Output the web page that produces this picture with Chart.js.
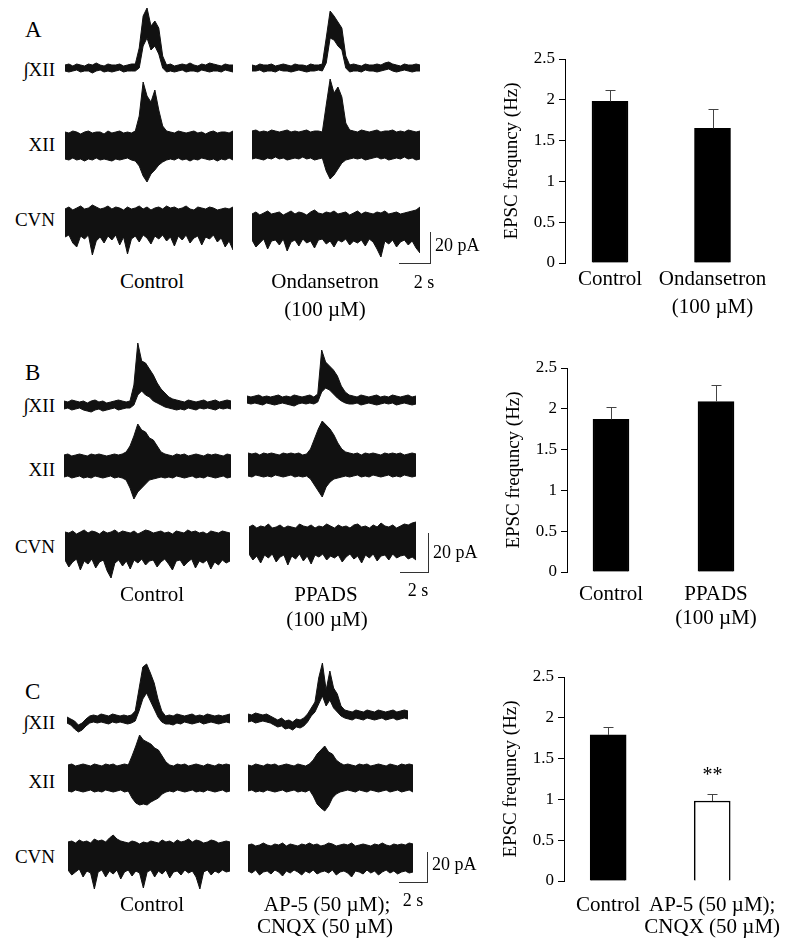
<!DOCTYPE html>
<html>
<head>
<meta charset="utf-8">
<script src="https://cdn.jsdelivr.net/npm/chart.js@4.4.1/dist/chart.umd.min.js"></script>
<style>
  body { margin: 0; background: #fff; width: 800px; height: 945px; position: relative; overflow: hidden;
         font-family: "Liberation Serif", "Times New Roman", serif; color: #000; }
  canvas { position: absolute; }
  .t { position: absolute; white-space: nowrap; line-height: 1; }
  .bar { position: absolute; background: #333; }
</style>
</head>
<body>
<script>
// ---- trace envelopes (px above / below the trace midline), 44 samples each ----
// panel A
const aCtlIntUp = [3,4,2,4,3,2,4,3,5,3,2,4,3,3,4,2,3,4, 4,20,52,60,42,47,40,12,3, 4,2,3,4,3,5,3,2,4,3,5,4,3,2,4,3,3];
const aCtlIntLo = [-3,-4,-3,-2,-4,-3,-3,-5,-3,-2,-4,-3,-4,-3,-2,-4,-3,-3, -3,0,22,30,18,22,14,0,-4, -3,-4,-3,-2,-4,-3,-3,-4,-2,-3,-4,-3,-3,-4,-2,-3,-4];
const aDrgIntUp = [3,2,4,3,3,4,2,3,4,3,2,4,3,3,2,4,3,3, 4,30,57,52,46,40,12,3,4, 3,2,4,3,3,4,3,5,6,4,3,2,4,3,3,4,3];
const aDrgIntLo = [-3,-3,-2,-4,-3,-3,-4,-2,-3,-3,-4,-3,-2,-3,-4,-3,-3,-2, -3,5,30,28,22,18,0,-4,-3, -3,-4,-2,-3,-3,-4,-3,-2,-1,-3,-4,-3,-2,-3,-4,-3,-3];
const aCtlXiiUp = [14,13,15,14,12,14,15,13,14,14,12,15,13,14,15,13,14,13,15, 30,64,50,44,56,36,20,15, 14,13,15,14,13,14,15,13,14,12,14,15,13,14,14,13,15];
const aCtlXiiLo = [-13,-14,-12,-14,-13,-15,-13,-14,-12,-14,-13,-14,-15,-13,-14,-13,-12,-14,-15, -20,-30,-36,-28,-24,-19,-16,-14, -13,-14,-12,-14,-13,-15,-13,-14,-12,-13,-14,-13,-15,-13,-14,-12,-14];
const aDrgXiiUp = [14,15,13,14,13,15,14,13,14,15,13,14,13,14,15,13,14,14,13, 40,66,52,58,48,22,15,14, 13,15,14,13,14,15,13,14,14,15,13,14,13,15,14,13,14];
const aDrgXiiLo = [-14,-13,-14,-15,-13,-14,-12,-14,-13,-15,-14,-13,-14,-12,-14,-13,-15,-14,-13, -26,-34,-30,-24,-18,-15,-14,-13, -14,-13,-15,-14,-13,-12,-14,-13,-15,-14,-13,-14,-12,-14,-13,-15,-14];
const aCtlCvnUp = [12,14,11,13,15,12,13,16,14,12, 13,15,12,14,13,11,14,12,13,15, 12,14,11,13,14,12,15,13,14,12, 13,15,12,11,14,13,12,14,13,11, 12,13,12,14];
const aCtlCvnLo = [-16,-14,-22,-26,-15,-18,-14,-34,-20,-16, -22,-15,-19,-14,-24,-16,-33,-18,-15,-21, -14,-17,-23,-15,-18,-14,-20,-16,-25,-15, -19,-14,-22,-17,-15,-24,-16,-18,-14,-21, -17,-26,-20,-29];
const aDrgCvnUp = [11,13,10,12,14,11,12,13,10,12, 14,11,13,12,10,13,15,12,11,13, 12,14,11,12,13,10,12,14,11,13, 12,11,13,12,14,11,12,13,11,12, 13,14,15,18];
const aDrgCvnLo = [-15,-22,-18,-14,-24,-16,-15,-20,-14,-26, -17,-15,-21,-14,-18,-16,-23,-15,-14,-19, -16,-22,-15,-17,-14,-20,-16,-18,-15,-21, -14,-17,-24,-32,-16,-19,-15,-22,-17,-15, -20,-16,-23,-28];
// panel B
const bCtlIntUp = [4,3,5,4,3,4,2,4,5,3,4,2,3,4,5,4,3, 4,20,62,44,42,36,30,22,16,12,8,6,5, 4,3,5,4,3,4,5,3,4,5,3,4,5,4];
const bCtlIntLo = [-4,-3,-5,-4,-3,-5,-6,-7,-5,-4,-6,-5,-4,-3,-5,-4,-3, -3,0,10,14,10,8,4,2,0,-2,-3,-4,-5, -4,-5,-3,-4,-5,-3,-4,-3,-4,-5,-3,-4,-3,-4];
const bDrgIntUp = [4,3,4,5,3,4,3,4,5,3,4,3,5,4,3,4,5,3, 6,50,38,34,30,24,14,8,5, 4,3,5,4,3,4,5,3,4,3,5,4,3,4,5,3,4];
const bDrgIntLo = [-3,-4,-3,-4,-5,-3,-4,-5,-4,-3,-4,-5,-6,-4,-3,-4,-3,-4, -2,8,12,10,6,2,-1,-3,-4, -4,-3,-5,-4,-3,-4,-5,-4,-3,-4,-3,-5,-4,-3,-4,-5,-4];
const bCtlXiiUp = [11,12,10,11,12,11,10,12,11,12,11,10,11,12,11,12, 14,20,30,42,36,34,28,26,20,14,12, 11,10,12,11,12,10,11,12,11,10,12,11,12,11,10,12,11];
const bCtlXiiLo = [-11,-10,-12,-11,-10,-12,-11,-12,-10,-11,-12,-11,-10,-12,-11,-12, -14,-22,-33,-26,-22,-18,-14,-13,-12,-11,-12, -11,-12,-10,-11,-12,-11,-10,-12,-11,-12,-10,-11,-12,-11,-10,-12,-11];
const bDrgXiiUp = [12,11,12,10,12,11,12,11,10,12,11,12,11,12,10,11, 16,26,36,44,40,36,30,22,16,13,12, 11,12,10,12,11,12,11,10,12,11,12,11,12,10,11,12,11];
const bDrgXiiLo = [-11,-12,-10,-11,-12,-11,-12,-10,-11,-12,-11,-10,-12,-11,-12,-11, -14,-20,-26,-32,-22,-17,-14,-13,-12,-11,-12, -11,-10,-12,-11,-12,-10,-11,-12,-11,-10,-12,-11,-12,-10,-11,-12,-11];
const bCtlCvnUp = [13,12,14,11,13,15,12,14,13,11, 14,12,13,15,12,14,13,12,14,11, 13,15,14,12,13,14,12,13,11,14, 13,12,15,13,14,12,13,11,14,13, 12,14,13,12];
const bCtlCvnLo = [-15,-22,-17,-14,-25,-16,-19,-14,-23,-17, -15,-26,-33,-18,-15,-21,-16,-24,-15,-18, -14,-20,-16,-15,-22,-17,-14,-19,-25,-16, -15,-21,-17,-14,-23,-16,-18,-15,-24,-17, -20,-15,-18,-16];
const bDrgCvnUp = [13,15,12,14,13,16,12,13,15,12, 14,13,12,16,14,13,15,12,14,13, 16,14,12,15,13,14,12,15,16,13, 14,12,15,13,17,14,13,15,12,14, 16,15,17,18];
const bDrgCvnLo = [-14,-20,-16,-23,-15,-18,-14,-22,-17,-15, -25,-16,-19,-14,-21,-16,-24,-15,-17,-14, -20,-16,-18,-15,-22,-17,-14,-19,-16,-23, -15,-18,-14,-21,-16,-15,-20,-14,-18,-16, -15,-19,-17,-20];
// panel C
const cCtlIntUp = [2,0,-2,-6,-4,0,3,4,3,5,4,3,5,4,3,4,3,4, 8,30,52,55,46,36,20,8,3, 4,3,5,4,3,4,5,3,4,3,5,4,3,4,3,4,5];
const cCtlIntLo = [-4,-6,-10,-13,-11,-7,-4,-3,-4,-3,-4,-5,-3,-4,-3,-4,-5,-4, -2,8,20,26,18,10,2,-3,-5, -5,-6,-4,-5,-3,-4,-5,-4,-3,-5,-4,-3,-4,-5,-4,-3,-4];
const cDrgIntUp = [4,3,5,4,3,4,2, 0,-2,0,-3,-2,-4,-1,-2,0,4,10,16,40,55,28,47,30,24,12,8, 7,6,8,7,6,8,7,6,8,7,6,7,8,6,7,8,7];
const cDrgIntLo = [-4,-3,-5,-4,-3,-4,-5, -7,-9,-8,-11,-10,-12,-9,-10,-8,-4,2,6,14,22,12,18,10,6,2,0, -1,-2,0,-1,-2,0,-1,-2,-1,0,-2,-1,0,-2,-1,0,-1];
const cCtlXiiUp = [13,14,12,13,14,13,12,14,13,12,14,13,14,12,13,14,13, 22,32,43,38,36,34,30,28,22,16, 13,12,14,13,14,12,13,14,13,12,14,13,12,14,13,14,13];
const cCtlXiiLo = [-13,-14,-12,-13,-14,-13,-12,-14,-13,-14,-12,-13,-14,-13,-12,-14,-13, -20,-25,-27,-26,-27,-24,-22,-20,-16,-14, -13,-14,-12,-13,-14,-13,-12,-14,-13,-14,-12,-13,-14,-13,-12,-14,-13];
const cDrgXiiUp = [13,12,14,13,12,14,13,14,12,13,14,13,12,14,13,12,14, 18,24,28,32,26,24,18,15,13,14, 13,12,14,13,14,12,13,14,13,12,14,13,12,14,13,14,13];
const cDrgXiiLo = [-13,-12,-14,-13,-14,-12,-13,-14,-13,-12,-14,-13,-12,-14,-13,-14,-12, -18,-26,-30,-33,-28,-20,-16,-14,-13,-12, -13,-14,-12,-13,-14,-12,-13,-14,-13,-12,-14,-13,-12,-14,-13,-12,-14];
const cCtlCvnUp = [13,14,12,15,13,14,12,16,14,15, 13,17,20,16,14,13,12,14,13,11, 13,12,14,13,12,15,13,14,12,15, 13,14,16,13,15,14,12,13,15,14, 12,13,14,13];
const cCtlCvnLo = [-15,-20,-17,-14,-22,-16,-18,-34,-17,-15, -22,-16,-19,-15,-24,-17,-15,-21,-16,-18, -33,-17,-15,-22,-16,-19,-15,-23,-17,-16, -20,-15,-18,-16,-22,-34,-17,-15,-20,-16, -18,-15,-17,-16];
const cDrgCvnUp = [12,13,11,12,14,12,11,13,12,14, 11,13,12,11,13,12,14,12,13,11, 12,14,13,11,12,13,12,14,11,12, 13,12,11,13,12,14,12,11,13,12, 13,12,14,13];
const cDrgCvnLo = [-14,-16,-13,-18,-15,-14,-17,-13,-15,-19, -14,-16,-13,-15,-18,-14,-16,-13,-17,-15, -14,-16,-13,-18,-15,-14,-16,-20,-14,-15, -17,-13,-16,-14,-18,-15,-13,-16,-14,-17, -15,-14,-16,-15];

// ---- bar charts: EPSC frequency (Hz), mean and SEM ----
const catsA = ["Control", ["Ondansetron", "(100 µM)"]];
const valsA = [1.98, 1.65];
const errsA = [0.14, 0.24];
const catsB = ["Control", ["PPADS", "(100 µM)"]];
const valsB = [1.87, 2.09];
const errsB = [0.15, 0.20];
const catsC = ["Control", ["AP-5 (50 µM);", "CNQX (50 µM)"]];
const valsC = [1.79, 0.98];
const errsC = [0.10, 0.09];
const sigC = ["", "**"];
const yTicks = [0, 0.5, 1, 1.5, 2, 2.5];

const FONT = '"Liberation Serif", "Times New Roman", serif';

function txt(s, x, capTop, size, align) {
  const d = document.createElement("div");
  d.className = "t";
  d.textContent = s;
  d.style.fontSize = size + "px";
  d.style.left = x + "px";
  d.style.top = (capTop - 0.175 * size) + "px";
  if (align === "c") d.style.transform = "translateX(-50%)";
  if (align === "r") d.style.transform = "translateX(-100%)";
  document.body.appendChild(d);
}

function rect(x, y, w, h) {
  const d = document.createElement("div");
  d.className = "bar";
  Object.assign(d.style, { left: x + "px", top: y + "px", width: w + "px", height: h + "px" });
  document.body.appendChild(d);
}

function addCanvas(left, top, w, h) {
  const c = document.createElement("canvas");
  c.width = w; c.height = h;
  c.style.left = left + "px";
  c.style.top = top + "px";
  document.body.appendChild(c);
  return c;
}

// trace heights above/below midline per row type
const rowBox = { int: [66, 18], xii: [72, 40], cvn: [24, 40] };

// each recording is the filled band between its upper and lower envelope
function trace(up, lo, left, width, mid, kind) {
  const [above, below] = rowBox[kind];
  const cv = addCanvas(left, mid - above, width, above + below);
  new Chart(cv, {
    type: "line",
    data: {
      labels: up.map((_, i) => i),
      datasets: [
        { data: up, fill: "+1", borderColor: "#111", backgroundColor: "#111", borderWidth: 1, pointRadius: 0, tension: 0, clip: false },
        { data: lo, fill: false, borderColor: "#111", borderWidth: 1, pointRadius: 0, tension: 0, clip: false }
      ]
    },
    options: {
      responsive: false, animation: false, events: [],
      layout: { padding: 0 },
      plugins: { legend: { display: false }, tooltip: { enabled: false } },
      scales: {
        x: { display: false },
        y: { display: false, min: -below, max: above }
      }
    }
  });
}

const errorBars = {
  id: "errorBars",
  afterDatasetsDraw(chart, args, opts) {
    const { ctx } = chart;
    const x = chart.scales.x, y = chart.scales.y;
    const pts = chart.data.datasets[0].data;
    ctx.save();
    ctx.strokeStyle = "#444";
    ctx.lineWidth = 1;
    pts.forEach((p, i) => {
      const px = Math.round(x.getPixelForValue(p.x)) + 0.5;
      const y0 = y.getPixelForValue(p.y);
      const y1 = Math.round(y.getPixelForValue(p.y + opts.errs[i])) + 0.5;
      ctx.beginPath();
      ctx.moveTo(px, y0); ctx.lineTo(px, y1);
      ctx.moveTo(px - 5, y1); ctx.lineTo(px + 5, y1);
      ctx.stroke();
      if (opts.sig && opts.sig[i]) {
        ctx.fillStyle = "#000";
        ctx.font = "20px " + FONT;
        ctx.textAlign = "center";
        ctx.textBaseline = "alphabetic";
        ctx.fillText(opts.sig[i], px, y1 - 14);
      }
    });
    ctx.restore();
  }
};

function barChart(o) {
  const unit = o.c1 - o.c0;
  const left = o.axisX - 75;
  const top = o.topY - 19;
  const cv = addCanvas(left, top, 800 - left, o.zeroY - top + 75);
  const xmin = -(o.c0 - o.axisX) / unit;
  new Chart(cv, {
    type: "bar",
    data: {
      datasets: [{
        data: o.vals.map((v, i) => ({ x: i, y: v })),
        backgroundColor: o.fills, borderColor: "#000", borderWidth: 1.5,
        barThickness: 36
      }]
    },
    options: {
      responsive: false, animation: false, events: [],
      layout: { padding: { top: 19, right: 800 - o.axisX - 2 * unit, left: 0, bottom: 0 } },
      plugins: { legend: { display: false }, tooltip: { enabled: false }, errorBars: { errs: o.errs, sig: o.sig } },
      scales: {
        x: {
          type: "linear", offset: false, min: xmin, max: xmin + 2,
          afterBuildTicks: s => { s.ticks = o.cats.map((_, i) => ({ value: i })); },
          ticks: { callback: v => o.cats[v], font: { family: FONT, size: 21, lineHeight: o.lh }, color: "#000",
                   padding: o.pad, maxRotation: 0, autoSkip: false },
          grid: { display: false, drawTicks: false, offset: false },
          border: { display: false },
          afterFit: s => { s.height = 75; }
        },
        y: {
          min: 0, max: 2.5,
          afterBuildTicks: s => { s.ticks = yTicks.map(v => ({ value: v })); },
          ticks: { callback: v => String(v), font: { family: FONT, size: 17 }, color: "#000", padding: 4 },
          grid: { drawOnChartArea: false, tickLength: 6, color: "#000" },
          border: { color: "#000", width: 1 },
          title: { display: true, text: "EPSC frequncy (Hz)", font: { family: FONT, size: 19 }, color: "#000",
                   padding: { top: 10.6, bottom: 0 } },
          afterFit: s => { s.width = 75; }
        }
      }
    },
    plugins: [errorBars]
  });
}

// ---- panel A ----
txt("A", 25, 22, 23);
txt("\u222BXII", 55, 63, 19, "r");
txt("XII", 55, 138, 19, "r");
txt("CVN", 55, 213, 19, "r");
trace(aCtlIntUp, aCtlIntLo, 65, 168, 68, "int");
trace(aDrgIntUp, aDrgIntLo, 252, 168, 68, "int");
trace(aCtlXiiUp, aCtlXiiLo, 65, 168, 146, "xii");
trace(aDrgXiiUp, aDrgXiiLo, 252, 168, 145, "xii");
trace(aCtlCvnUp, aCtlCvnLo, 65, 168, 221, "cvn");
trace(aDrgCvnUp, aDrgCvnLo, 252, 168, 225, "cvn");
rect(430, 232, 1, 31); rect(399, 263, 32, 1);
txt("20 pA", 435, 239, 18);
txt("2 s", 424, 276, 18, "c");
txt("Control", 152, 275, 21, "c");
txt("Ondansetron", 325, 275, 21, "c");
txt("(100 µM)", 325, 303, 21, "c");
barChart({ axisX: 565, topY: 59, zeroY: 263, c0: 610, c1: 712.5, cats: catsA, vals: valsA, errs: errsA,
           fills: ["#000", "#000"], pad: 3, lh: 1.33 });

// ---- panel B ----
txt("B", 25, 365, 23);
txt("\u222BXII", 55, 399, 19, "r");
txt("XII", 55, 463, 19, "r");
txt("CVN", 55, 540, 19, "r");
trace(bCtlIntUp, bCtlIntLo, 64, 167, 405, "int");
trace(bDrgIntUp, bDrgIntLo, 247, 169, 400, "int");
trace(bCtlXiiUp, bCtlXiiLo, 64, 167, 466, "xii");
trace(bDrgXiiUp, bDrgXiiLo, 248, 168, 465, "xii");
trace(bCtlCvnUp, bCtlCvnLo, 65, 165, 545, "cvn");
trace(bDrgCvnUp, bDrgCvnLo, 249, 167, 540, "cvn");
rect(428, 533, 1, 39); rect(400, 572, 29, 1);
txt("20 pA", 433, 546, 18);
txt("2 s", 418, 584, 18, "c");
txt("Control", 152, 588, 21, "c");
txt("PPADS", 326, 588, 21, "c");
txt("(100 µM)", 327, 613, 21, "c");
barChart({ axisX: 567, topY: 368, zeroY: 572, c0: 611, c1: 716, cats: catsB, vals: valsB, errs: errsB,
           fills: ["#000", "#000"], pad: 11, lh: 1.14 });

// ---- panel C ----
txt("C", 25, 684, 23);
txt("\u222BXII", 55, 716, 19, "r");
txt("XII", 55, 775, 19, "r");
txt("CVN", 55, 850, 19, "r");
trace(cCtlIntUp, cCtlIntLo, 67, 163, 719, "int");
trace(cDrgIntUp, cDrgIntLo, 248, 160, 718, "int");
trace(cCtlXiiUp, cCtlXiiLo, 68, 162, 778, "xii");
trace(cDrgXiiUp, cDrgXiiLo, 248, 165, 778, "xii");
trace(cCtlCvnUp, cCtlCvnLo, 68, 162, 855, "cvn");
trace(cDrgCvnUp, cDrgCvnLo, 248, 165, 857, "cvn");
rect(427, 852, 1, 30); rect(399, 882, 29, 1);
txt("20 pA", 432, 858, 18);
txt("2 s", 413, 894, 18, "c");
txt("Control", 152, 898, 21, "c");
txt("AP-5 (50 µM);", 327, 898, 21, "c");
txt("CNQX (50 µM)", 325, 920, 21, "c");
barChart({ axisX: 564, topY: 677, zeroY: 881, c0: 609, c1: 715, cats: catsC, vals: valsC, errs: errsC, sig: sigC,
           fills: ["#000", "#fff"], pad: 13, lh: 1.05 });
</script>
</body>
</html>
